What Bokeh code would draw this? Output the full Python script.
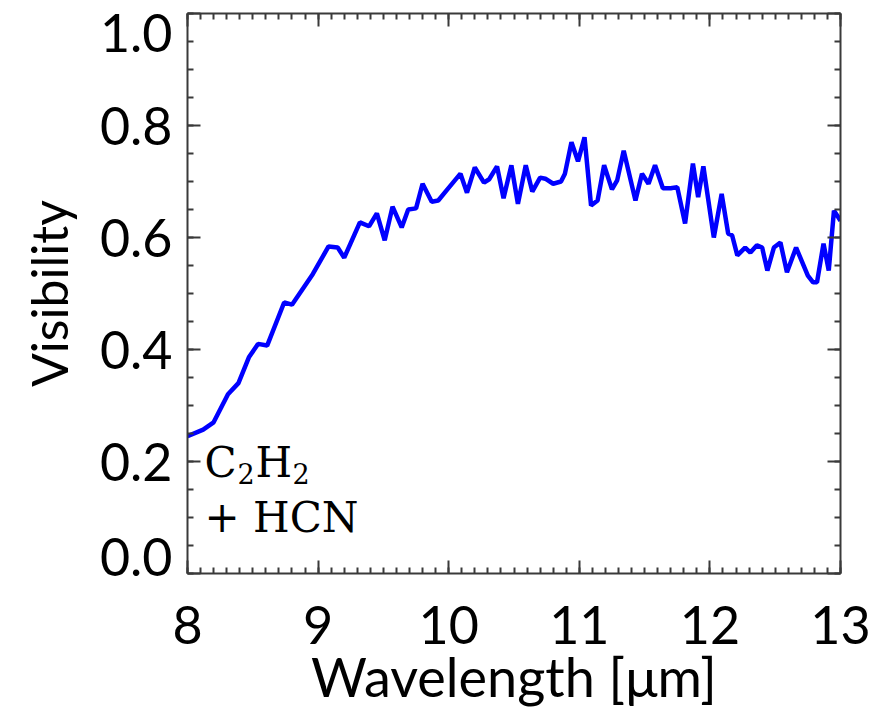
from bokeh.plotting import figure
from bokeh.models import LinearAxis, FixedTicker, Range1d, Label
from bokeh.embed import file_html
from bokeh.resources import INLINE

# Data
wavelength = [8.00, 8.12, 8.20, 8.31, 8.39, 8.47, 8.54, 8.61, 8.74, 8.80,
              8.96, 9.08, 9.15, 9.20, 9.32, 9.39, 9.45, 9.51, 9.57, 9.64,
              9.69, 9.75, 9.80, 9.87, 9.92, 9.99, 10.09, 10.14, 10.20, 10.27,
              10.31, 10.37, 10.42, 10.48, 10.53, 10.59, 10.64, 10.70, 10.74, 10.80,
              10.86, 10.89, 10.94, 10.99, 11.04, 11.09, 11.14, 11.19, 11.25, 11.29,
              11.34, 11.43, 11.48, 11.53, 11.58, 11.64, 11.70, 11.75, 11.81, 11.87,
              11.91, 11.95, 12.03, 12.09, 12.14, 12.17, 12.21, 12.27, 12.31, 12.36,
              12.40, 12.44, 12.49, 12.54, 12.59, 12.66, 12.75, 12.79, 12.82, 12.87,
              12.91, 12.95, 13.00]
visibility = [0.245, 0.257, 0.270, 0.320, 0.340, 0.386, 0.410, 0.407, 0.484, 0.480,
              0.535, 0.584, 0.582, 0.564, 0.627, 0.620, 0.643, 0.595, 0.655, 0.618,
              0.650, 0.652, 0.696, 0.664, 0.666, 0.686, 0.714, 0.680, 0.725, 0.698,
              0.704, 0.727, 0.670, 0.729, 0.660, 0.729, 0.682, 0.707, 0.705, 0.696,
              0.700, 0.714, 0.770, 0.736, 0.779, 0.657, 0.666, 0.729, 0.686, 0.702,
              0.755, 0.666, 0.714, 0.696, 0.729, 0.688, 0.688, 0.690, 0.625, 0.732,
              0.672, 0.727, 0.600, 0.678, 0.607, 0.604, 0.568, 0.582, 0.573, 0.586,
              0.582, 0.541, 0.582, 0.591, 0.538, 0.582, 0.532, 0.520, 0.520, 0.589,
              0.541, 0.648, 0.630]

x_ticks = [8, 9, 10, 11, 12, 13]
y_ticks = [0.0, 0.2, 0.4, 0.6, 0.8, 1.0]
y_tick_labels = ["0.0", "0.2", "0.4", "0.6", "0.8", "1.0"]
# the end labels sit inside the axis range, as in the reference
y_label_pos = [0.03, 0.2, 0.4, 0.6, 0.8, 0.965]
x_minor = [8 + 0.1 * i for i in range(51)]
y_minor = [0.05 * i for i in range(21)]

FONT = "Lato"
TICK_SIZE = "52px"
TITLE_SIZE = "54px"
AX = "#3a3a3a"

p = figure(width=884, height=714, output_backend="svg", toolbar_location=None,
           x_range=Range1d(8, 13), y_range=Range1d(0, 1.0),
           min_border_left=187, min_border_right=44, min_border_top=13,
           min_border_bottom=141, x_axis_label="Wavelength [\u03bcm]")
p.outline_line_color = None
p.xgrid.grid_line_color = None
p.ygrid.grid_line_color = None
p.background_fill_color = "white"
p.border_fill_color = "white"

p.line(wavelength, visibility, line_color="#0000ff", line_width=4.5)


def tick_style(ax, ticks, minor):
    ax.ticker = FixedTicker(ticks=ticks, minor_ticks=minor)
    ax.axis_line_color = AX
    ax.axis_line_width = 2
    ax.major_tick_line_color = AX
    ax.minor_tick_line_color = AX
    ax.major_tick_line_width = 2
    ax.minor_tick_line_width = 2
    ax.major_tick_in = 13
    ax.major_tick_out = 0
    ax.minor_tick_in = 6
    ax.minor_tick_out = 0


def no_labels(ax, ticks):
    ax.major_label_overrides = {t: "" for t in ticks}
    ax.major_label_text_font_size = "1px"
    ax.major_label_standoff = 0


# bottom axis with labels
xa = p.xaxis[0]
tick_style(xa, x_ticks, x_minor)
xa.major_label_text_font = FONT
xa.major_label_text_font_size = TICK_SIZE
xa.major_label_text_color = "black"
xa.major_label_standoff = 32
xa.axis_label_text_font = FONT
xa.axis_label_text_font_size = TITLE_SIZE
xa.axis_label_text_font_style = "normal"
xa.axis_label_text_color = "black"
xa.axis_label_standoff = -3

# left axis: ticks only (next to the frame)
ya = p.yaxis[0]
tick_style(ya, y_ticks, y_minor)
no_labels(ya, y_ticks)

# left axis: labels and title
yl = LinearAxis(axis_label="Visibility")
yl.ticker = FixedTicker(ticks=y_label_pos, minor_ticks=[])
yl.major_label_overrides = dict(zip(y_label_pos, y_tick_labels))
yl.axis_line_color = None
yl.major_tick_line_color = None
yl.minor_tick_line_color = None
yl.major_tick_in = 0
yl.major_tick_out = 0
yl.minor_tick_in = 0
yl.minor_tick_out = 0
yl.major_label_standoff = 15
yl.major_label_text_font = FONT
yl.major_label_text_font_size = TICK_SIZE
yl.major_label_text_color = "black"
yl.axis_label_text_font = FONT
yl.axis_label_text_font_size = "50px"
yl.axis_label_text_font_style = "normal"
yl.axis_label_text_color = "black"
yl.axis_label_standoff = 18
p.add_layout(yl, "left")

top = LinearAxis()
tick_style(top, x_ticks, x_minor)
no_labels(top, x_ticks)
p.add_layout(top, "above")
right = LinearAxis()
tick_style(right, y_ticks, y_minor)
no_labels(right, y_ticks)
p.add_layout(right, "right")

# molecule annotation
SERIF = "DejaVu Serif"
ann = dict(text_font=SERIF, text_color="black", text_baseline="alphabetic")
p.add_layout(Label(x=8.13, y=0.198, text="C", text_font_size="42px", **ann))
p.add_layout(Label(x=8.13, y=0.198, text="2", x_offset=33, y_offset=-11,
                   text_font_size="27px", **ann))
p.add_layout(Label(x=8.13, y=0.198, text="H", x_offset=51, text_font_size="42px", **ann))
p.add_layout(Label(x=8.13, y=0.198, text="2", x_offset=88, y_offset=-11,
                   text_font_size="27px", **ann))
p.add_layout(Label(x=8.13, y=0.100, text="+ HCN", text_font_size="42px", **ann))

open("out.html", "w").write(file_html(p, INLINE))
